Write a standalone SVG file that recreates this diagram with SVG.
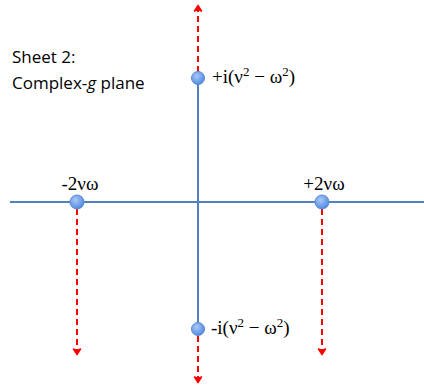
<svg xmlns="http://www.w3.org/2000/svg" width="424" height="386" viewBox="0 0 424 386">
<defs>
<radialGradient id="g" cx="0.4" cy="0.35" r="0.7">
<stop offset="0" stop-color="#a9c8f5"/>
<stop offset="1" stop-color="#4a86e0"/>
</radialGradient>
<marker id="up" markerWidth="10" markerHeight="10" refX="5" refY="2" orient="0" markerUnits="userSpaceOnUse" viewBox="0 0 10 10">
<path d="M1.5,7 L5,1.5 L8.5,7 L5,5.5 Z" fill="#ff0000" stroke="#ff0000" stroke-width="1.5" stroke-linejoin="round"/>
</marker>
<marker id="dn" markerWidth="10" markerHeight="10" refX="5" refY="8" orient="0" markerUnits="userSpaceOnUse" viewBox="0 0 10 10">
<path d="M1.5,3 L5,8.5 L8.5,3 L5,4.5 Z" fill="#ff0000" stroke="#ff0000" stroke-width="1.5" stroke-linejoin="round"/>
</marker>
</defs>
<style>
.ax{stroke:#4f81bd;stroke-width:2;fill:none}
.rd{stroke:#ff0000;stroke-width:2;stroke-dasharray:6,4;fill:none}
.pt{fill:url(#g);stroke:#5a8ad6;stroke-width:1}
.lb{font-family:"Liberation Serif",serif;font-size:19px;fill:#000}
.tt{font-family:"Open Sans","Liberation Sans",sans-serif;font-size:17px;fill:#000}
</style>
<g id="title">
<text class="tt" x="12" y="63">Sheet 2:</text>
<text class="tt" x="12" y="89">Complex-<tspan font-style="italic">g</tspan> plane</text>
</g>
<g id="connectors">
<line class="ax" x1="10" y1="202" x2="424" y2="202"/>
<line class="ax" x1="198" y1="80" x2="198" y2="326"/>
<line class="rd" x1="198" y1="72" x2="198" y2="6" marker-end="url(#up)"/>
<line class="rd" x1="198" y1="336" x2="198" y2="382" marker-end="url(#dn)"/>
<line class="rd" x1="77" y1="209" x2="77" y2="354" marker-end="url(#dn)"/>
<line class="rd" x1="322" y1="209" x2="322" y2="354" marker-end="url(#dn)"/>
</g>
<g id="top">
<circle class="pt" cx="198" cy="78" r="6.5"/>
<text class="lb" x="212" y="83">+i(ν<tspan dy="-7" font-size="13">2</tspan><tspan dy="7"> − ω</tspan><tspan dy="-7" font-size="13">2</tspan><tspan dy="7">)</tspan></text>
</g>
<g id="bottom">
<circle class="pt" cx="198" cy="329" r="6.5"/>
<text class="lb" x="211" y="334">-i(ν<tspan dy="-7" font-size="13">2</tspan><tspan dy="7"> − ω</tspan><tspan dy="-7" font-size="13">2</tspan><tspan dy="7">)</tspan></text>
</g>
<g id="left">
<circle class="pt" cx="77" cy="202" r="7"/>
<text class="lb" x="80" y="190" text-anchor="middle">-2νω</text>
</g>
<g id="right">
<circle class="pt" cx="322" cy="202" r="7"/>
<text class="lb" x="324" y="190" text-anchor="middle">+2νω</text>
</g>
</svg>
